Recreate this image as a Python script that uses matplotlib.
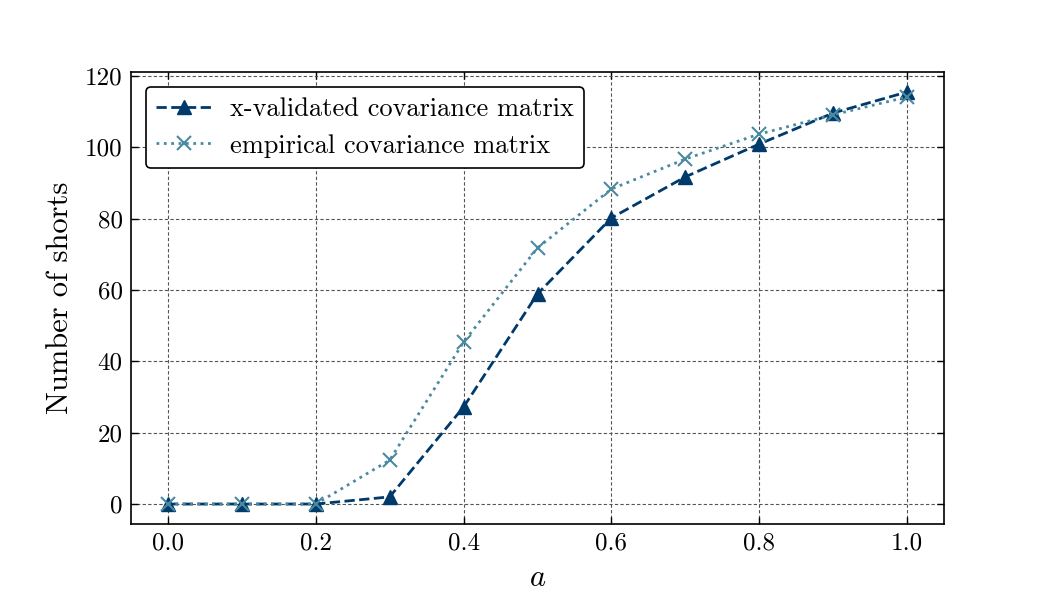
import matplotlib
matplotlib.use("Agg")
import matplotlib.pyplot as plt

plt.rcParams['font.family'] = ['cmr10', 'DejaVu Serif']
plt.rcParams['mathtext.fontset'] = 'cm'
plt.rcParams['axes.formatter.use_mathtext'] = True

a_values = [0.0, 0.1, 0.2, 0.3, 0.4, 0.5, 0.6, 0.7, 0.8, 0.9, 1.0]
xval_shorts = [0, 0, 0, 2.0, 27.2, 58.9, 80.2, 91.7, 100.9, 109.6, 115.5]
emp_shorts = [0, 0, 0, 12.3, 45.4, 71.8, 88.3, 96.7, 103.7, 109.1, 114.1]
x_ticks = [0.0, 0.2, 0.4, 0.6, 0.8, 1.0]
y_ticks = [0, 20, 40, 60, 80, 100, 120]

fig = plt.figure(figsize=(10.5, 6), dpi=100)
ax = fig.add_axes([131/1050, 1-524/600, (944-131)/1050, (524-72)/600])

ax.plot(a_values, xval_shorts, linestyle='--', color='#003a6b', marker='^',
        markersize=10, linewidth=2, label='x-validated covariance matrix', zorder=3)
ax.plot(a_values, emp_shorts, linestyle=':', color='#4a8aa0', marker='x',
        markersize=10, markeredgewidth=1.5, linewidth=2, label='empirical covariance matrix', zorder=3)

ax.set_xlim(-0.05, 1.05)
ax.set_ylim(-5.6, 121.1)
ax.set_xticks(x_ticks)
ax.set_xticklabels([f"{v:.1f}" for v in x_ticks])
ax.set_yticks(y_ticks)
ax.set_yticklabels([str(v) for v in y_ticks])
ax.tick_params(direction='in', top=True, right=True, labelsize=18, length=5, width=1, pad=6)
ax.grid(True, linestyle=(0, (3, 2)), color='#555555', linewidth=0.8)
for s in ax.spines.values():
    s.set_linewidth(1.2)

ax.set_xlabel('$a$', fontsize=22, labelpad=7)
ax.set_ylabel('Number of shorts', fontsize=22, labelpad=8)

leg = ax.legend(loc='upper left', fontsize=19, framealpha=1, edgecolor='black',
                fancybox=True, handlelength=2.15, borderpad=0.4, borderaxespad=0.55,
                labelspacing=0.5, handletextpad=0.65)
leg.get_frame().set_linewidth(1.2)

fig.savefig('out.png', dpi=100)
